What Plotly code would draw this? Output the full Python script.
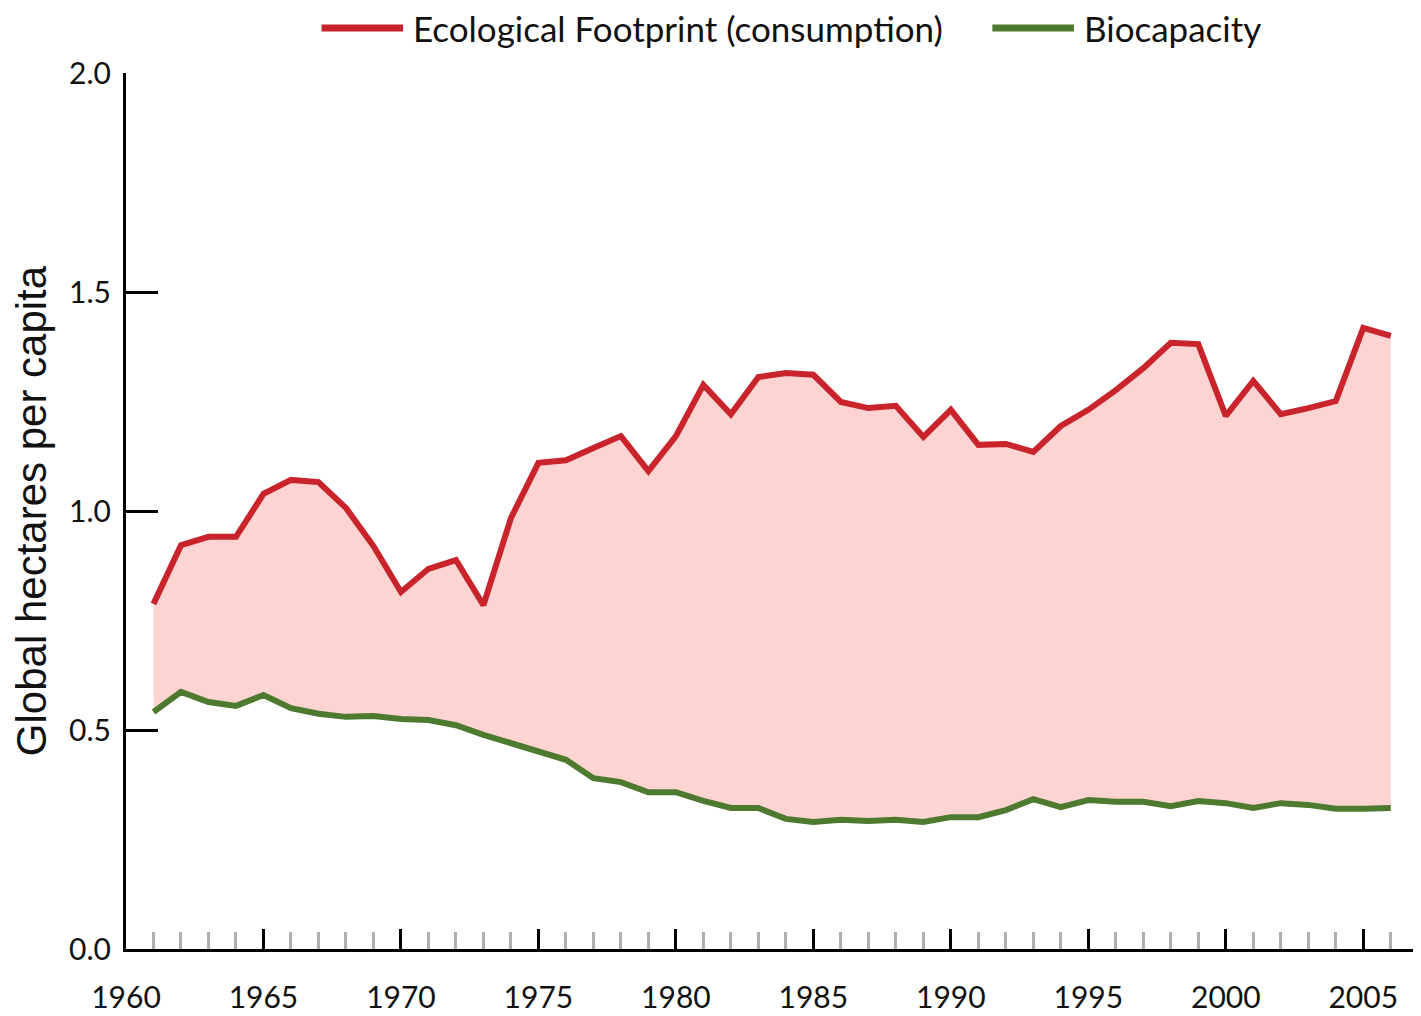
import plotly.graph_objects as go

years = list(range(1961, 2007))

footprint = [0.788, 0.922, 0.941, 0.941, 1.039, 1.071, 1.066, 1.007, 0.920, 0.815,
             0.868, 0.888, 0.785, 0.984, 1.110, 1.116, 1.144, 1.171, 1.091, 1.171,
             1.288, 1.221, 1.306, 1.315, 1.311, 1.249, 1.235, 1.240, 1.169, 1.231,
             1.151, 1.153, 1.135, 1.194, 1.231, 1.276, 1.326, 1.384, 1.381, 1.217,
             1.297, 1.221, 1.235, 1.251, 1.418, 1.400]

biocapacity = [0.541, 0.587, 0.564, 0.555, 0.580, 0.550, 0.537, 0.530, 0.532, 0.525,
               0.523, 0.511, 0.489, 0.470, 0.454, 0.432, 0.390, 0.381, 0.358, 0.358,
               0.338, 0.322, 0.322, 0.297, 0.290, 0.295, 0.292, 0.295, 0.290, 0.301,
               0.301, 0.317, 0.342, 0.324, 0.340, 0.336, 0.336, 0.326, 0.338, 0.333,
               0.322, 0.333, 0.329, 0.320, 0.320, 0.322]

names = ["Ecological Footprint (consumption)", "Biocapacity"]
red = "#c9232b"
green = "#4d7a2f"
font_main = "Lato, 'Open Sans', sans-serif"

fig = go.Figure()
fig.add_trace(go.Scatter(x=years, y=biocapacity, mode="lines", name=names[1],
                         line=dict(color=green, width=6), showlegend=False))
fig.add_trace(go.Scatter(x=years, y=footprint, mode="lines", name=names[0],
                         line=dict(color=red, width=6), fill="tonexty",
                         fillcolor="#fed4d2", showlegend=False))

# hand-drawn legend on top, like the original
legend_items = [(names[0], red, 0.151), (names[1], green, 0.669)]
for label, col, x0 in legend_items:
    fig.add_shape(type="line", xref="paper", yref="paper",
                  x0=x0, x1=x0 + 0.063, y0=1.0514, y1=1.0514,
                  line=dict(color=col, width=7))
    fig.add_annotation(text=label, xref="paper", yref="paper",
                       x=x0 + 0.069, y=1.0514, xanchor="left", yanchor="middle",
                       showarrow=False, font=dict(family=font_main, size=35, color="#111"))

fig.update_xaxes(
    range=[1960, 2007.1], tickmode="linear", tick0=1960, dtick=5,
    ticks="inside", ticklen=20, tickwidth=3, tickcolor="black",
    showline=True, linecolor="black", linewidth=3,
    showgrid=False, zeroline=False, automargin=False,
    ticklabelstandoff=20,
    tickfont=dict(family=font_main, size=30, color="#111"),
    minor=dict(ticks="inside", dtick=1, ticklen=17, tickwidth=3,
               tickcolor="#b0b0b0", showgrid=False),
)
fig.update_yaxes(
    range=[0, 2.0], tickmode="linear", tick0=0, dtick=0.5, tickformat=".1f",
    ticks="inside", ticklen=32, tickwidth=3, tickcolor="black",
    showline=True, linecolor="black", linewidth=3,
    showgrid=False, zeroline=False, automargin=False,
    ticklabelstandoff=6,
    tickfont=dict(family=font_main, size=30, color="#111"),
    title=dict(text="Global hectares per capita", standoff=16,
               font=dict(family="Liberation Sans, Arial, sans-serif", size=42, color="#111")),
)

# page body adds ~8px offset, so the figure is sized to fit inside the window
fig.update_layout(
    width=1413, height=1008,
    margin=dict(l=118, r=0, t=65, b=67),
    plot_bgcolor="white", paper_bgcolor="white",
    showlegend=False,
)

fig.write_html("out.html")
